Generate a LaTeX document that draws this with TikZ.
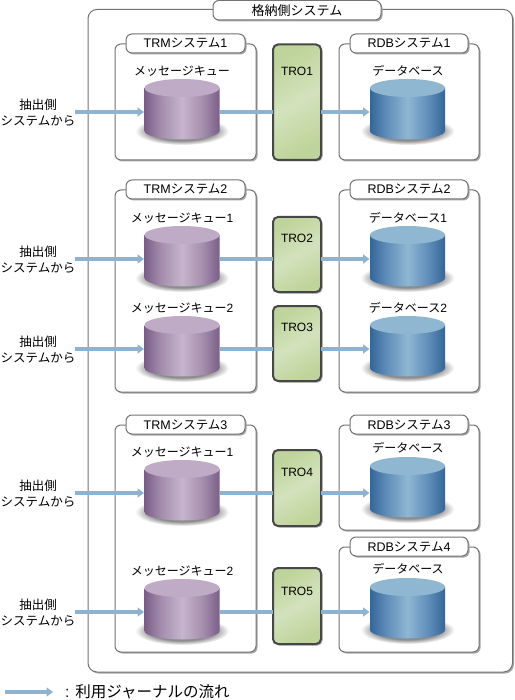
\documentclass[tikz,border=0pt]{standalone}
\usepackage{fontspec}
\setmainfont{Liberation Sans}
\newfontfamily\cjk{Noto Sans CJK JP}
\usetikzlibrary{arrows.meta,shadows,fit}
\definecolor{pE}{HTML}{7A5E88}
\definecolor{pM}{HTML}{A48DAD}
\definecolor{pC}{HTML}{C6B5CC}
\definecolor{pT}{HTML}{C0ABC6}
\definecolor{bE}{HTML}{336699}
\definecolor{bM}{HTML}{5F8DB8}
\definecolor{bC}{HTML}{8FB6D3}
\definecolor{bT}{HTML}{8FB7D2}
\definecolor{flowc}{HTML}{8DB3D1}
\definecolor{trA}{HTML}{BFD49B}
\definecolor{trB}{HTML}{D3E2BC}
\definecolor{shadc}{HTML}{A8A8A8}
\pgfdeclarehorizontalshading{purp}{100bp}{color(0bp)=(pE);color(25bp)=(pE);color(36bp)=(pM);color(50bp)=(pC);color(64bp)=(pM);color(75bp)=(pE);color(100bp)=(pE)}
\pgfdeclarehorizontalshading{blu}{100bp}{color(0bp)=(bE);color(25bp)=(bE);color(36bp)=(bM);color(50bp)=(bC);color(64bp)=(bM);color(75bp)=(bE);color(100bp)=(bE)}
\pgfdeclareradialshading{cylshad}{\pgfpointorigin}{color(0bp)=(black!50);color(17bp)=(black!45);color(25bp)=(white);color(50bp)=(white)}
\tikzset{
  x=1pt,y=-1pt,
  shad/.style={drop shadow={shadow xshift=1.5pt,shadow yshift=-1.5pt,fill=shadc,opacity=1}},
  every node/.style={outer sep=0pt},
  outerbox/.style={draw=black!55,line width=1pt,rounded corners=9pt,fill=white,inner sep=0pt,shad},
  sysbox/.style={draw=black!55,line width=1pt,rounded corners=6pt,fill=white,inner sep=0pt,shad},
  titlebox/.style={draw=black!55,line width=1pt,rounded corners=6pt,fill=white,inner sep=0pt,shad},
  trobox/.style={draw=black!72,line width=2pt,rounded corners=5pt,inner sep=0pt,shad,
    shade,shading=axis,left color=trA,right color=trA,middle color=trB,shading angle=30},
  txt/.style={font=\fontsize{12.5}{16}\selectfont,text=black,inner sep=0pt,align=center},
  lbl/.style={font=\fontsize{12}{16}\selectfont,text=black,inner sep=0pt},
  cylnode/.style={minimum width=76pt,minimum height=60pt,inner sep=0pt},
  flow/.style={draw=flowc,line width=3.6pt},
  flowh/.style={flow,-{Triangle[length=6.5pt,width=9pt]}},
}
\newcommand{\sysb}[7]{% name x1 y1 x2 y2 title-node-name title
  \node[sysbox,fit={(#2,#3)(#4,#5)}] (#1) {};
  \node[titlebox,fit={(#2+11,#3-10)(#4-11,#3+9)}] (#6) {};
  \node[txt] at (#6.center) {#7};}
\newcommand{\cyl}[6]{% name cx top arrowy shading topcolor
  \begin{scope}[shift={(#2,#3)}]
    \shade[shading=cylshad] (0,52) ellipse [x radius=47,y radius=14];
    \shade[shading=#5] (-37.5,9) -- (-37.5,52) .. controls (-37.5,56.7) and (-20.7,60.5) .. (0,60.5)
      .. controls (20.7,60.5) and (37.5,56.7) .. (37.5,52) -- (37.5,9) -- cycle;
    \fill[#6] (0,9) ellipse [x radius=37.5,y radius=9];
  \end{scope}
  \node[cylnode] (#1) at (#2,#4) {};}
\newcommand{\src}[2]{\node[txt] (#1) at (38,#2+0.5) {{\cjk 抽出側}\\{\cjk システムから}};}
\newcommand{\tro}[5]{% name y1 y2 label ytext
  \node[trobox,fit={(273,#2)(321,#3)}] (#1) {};
  \node[lbl] (#1l) at (297,#5) {#4};}
\begin{document}
\begin{tikzpicture}
\useasboundingbox (0,0) rectangle (514,700);
\node[outerbox,fit={(88,9.5)(512.5,672)}] (outer) {};
\node[titlebox,fit={(213,0.5)(381,20)}] (outert) {};
\node[txt,font=\fontsize{13}{16}\selectfont] at (outert.center) {\cjk 格納側システム};

\sysb{trm1}{115}{44}{256}{160}{trm1t}{TRM{\cjk システム}1}
\sysb{trm2}{115}{190}{256}{392}{trm2t}{TRM{\cjk システム}2}
\sysb{trm3}{115}{425}{256}{652}{trm3t}{TRM{\cjk システム}3}
\sysb{rdb1}{339}{44}{479}{160}{rdb1t}{RDB{\cjk システム}1}
\sysb{rdb2}{339}{190}{479}{392}{rdb2t}{RDB{\cjk システム}2}
\sysb{rdb3}{339}{425}{479}{530}{rdb3t}{RDB{\cjk システム}3}
\sysb{rdb4}{339}{547}{479}{652}{rdb4t}{RDB{\cjk システム}4}

\tro{t1}{44.5}{160}{TRO1}{71}
\tro{t2}{217}{292}{TRO2}{238}
\tro{t3}{306}{381}{TRO3}{327}
\tro{t4}{450}{526}{TRO4}{472}
\tro{t5}{568}{644}{TRO5}{591}

\cyl{q1}{182}{79}{112}{purp}{pT}
\cyl{q2}{182}{226}{259}{purp}{pT}
\cyl{q3}{182}{316}{349}{purp}{pT}
\cyl{q4}{182}{460}{493}{purp}{pT}
\cyl{q5}{182}{579}{612}{purp}{pT}
\cyl{d1}{407.5}{79}{112}{blu}{bT}
\cyl{d2}{407.5}{226}{259}{blu}{bT}
\cyl{d3}{407.5}{316}{349}{blu}{bT}
\cyl{d4}{407.5}{457}{493}{blu}{bT}
\cyl{d5}{407.5}{578}{612}{blu}{bT}

\node[lbl] (ql1) at (182,71) {\cjk メッセージキュー};
\node[lbl] (ql2) at (182,218) {\cjk メッセージキュー{\rmfamily 1}};
\node[lbl] (ql3) at (182,308) {\cjk メッセージキュー{\rmfamily 2}};
\node[lbl] (ql4) at (182,452) {\cjk メッセージキュー{\rmfamily 1}};
\node[lbl] (ql5) at (182,571) {\cjk メッセージキュー{\rmfamily 2}};
\node[lbl] (dl1) at (408,71) {\cjk データベース};
\node[lbl] (dl2) at (408,218) {\cjk データベース{\rmfamily 1}};
\node[lbl] (dl3) at (408,308) {\cjk データベース{\rmfamily 2}};
\node[lbl] (dl4) at (408,448) {\cjk データベース};
\node[lbl] (dl5) at (408,569) {\cjk データベース};

\src{s1}{112}
\src{s2}{259}
\src{s3}{349}
\src{s4}{493}
\src{s5}{612}

\foreach \s/\q/\t/\d in {s1/q1/t1/d1,s2/q2/t2/d2,s3/q3/t3/d3,s4/q4/t4/d4,s5/q5/t5/d5}{
  \draw[flowh] (\s.east |- \q.west) -- (\q.west);
  \draw[flow] (\q.east) -- (\q.east -| \t.west);
  \draw[flowh] (\t.east |- \d.west) -- (\d.west);
}

\coordinate (la) at (5,692);
\coordinate (lb) at (53,692);
\draw[flowh] (la) -- (lb);
\node[anchor=west,inner sep=0pt,font=\fontsize{15.5}{18}\selectfont] (legend) at (65,691.5) {:\hspace{6pt}{\cjk 利用ジャーナルの流れ}};
\end{tikzpicture}
\end{document}
